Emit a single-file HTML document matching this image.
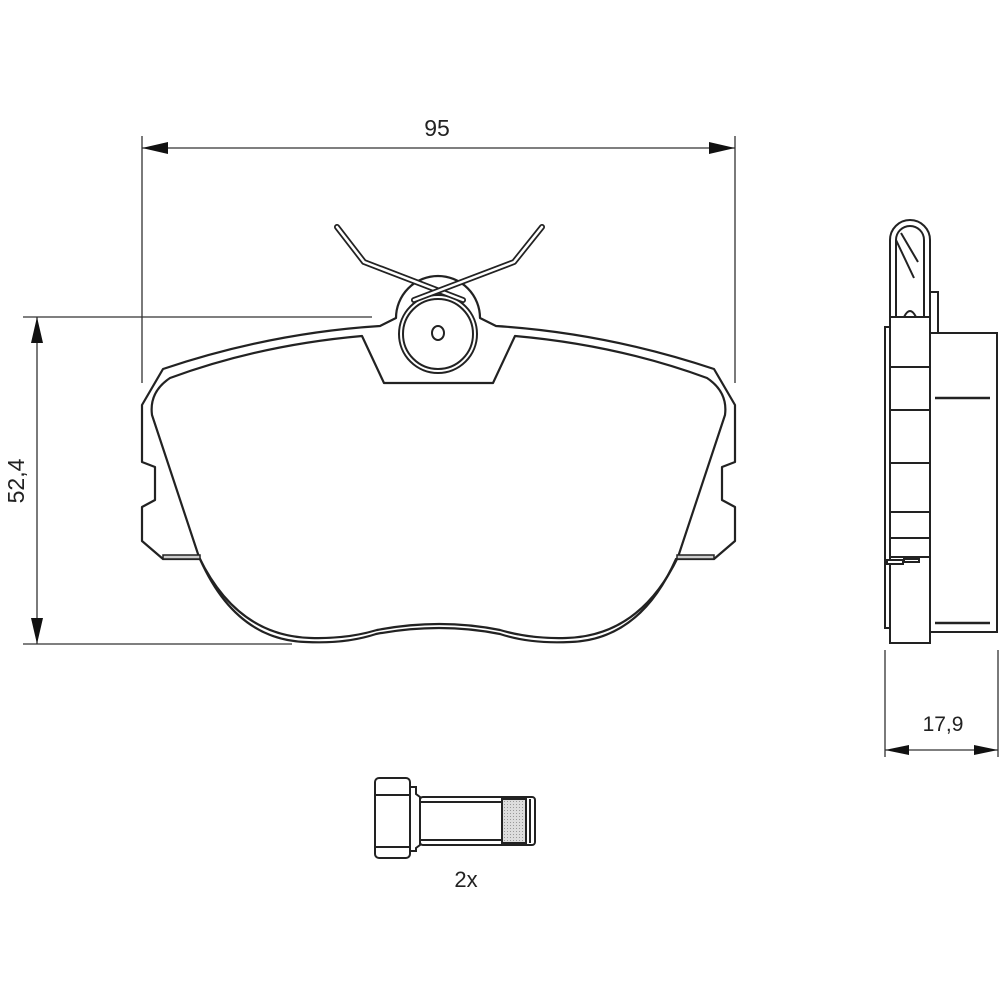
<!DOCTYPE html>
<html><head><meta charset="utf-8"><style>
html,body{margin:0;padding:0;background:#fff;}
svg{display:block;}
text{font-family:"Liberation Sans",sans-serif;fill:#222;}
</style></head><body>
<svg width="1000" height="1000" viewBox="0 0 1000 1000" xmlns="http://www.w3.org/2000/svg">
<defs>
<pattern id="hatch" width="3" height="3" patternUnits="userSpaceOnUse">
<rect width="3" height="3" fill="#ddd"/><rect width="1" height="1" fill="#999"/>
</pattern>
</defs>
<g stroke="#333" stroke-width="1.3" fill="none">
<line x1="142" y1="136" x2="142" y2="383"/>
<line x1="735" y1="136" x2="735" y2="383"/>
<line x1="142" y1="148" x2="735" y2="148"/>
<line x1="23" y1="317" x2="372" y2="317"/>
<line x1="23" y1="644" x2="292" y2="644"/>
<line x1="37" y1="317" x2="37" y2="644"/>
<line x1="885" y1="650" x2="885" y2="757"/>
<line x1="998" y1="650" x2="998" y2="757"/>
<line x1="885" y1="750" x2="998" y2="750"/>
</g>
<g fill="#111">
<polygon points="142,148 168,142 168,154"/>
<polygon points="735,148 709,142 709,154"/>
<polygon points="37,317 31,343 43,343"/>
<polygon points="37,644 31,618 43,618"/>
<polygon points="885,750 909,745 909,755"/>
<polygon points="998,750 974,745 974,755"/>
</g>
<text x="437" y="136" font-size="23" text-anchor="middle">95</text>
<text x="943" y="731" font-size="21" text-anchor="middle">17,9</text>
<text transform="translate(24,481) rotate(-90)" font-size="23" text-anchor="middle">52,4</text>

<g fill="none" stroke="#222" stroke-width="2.2" stroke-linejoin="round">
<path d="M163,369 Q270,333 380,326 L396,318 A42,42 0 0 1 480,318 L496,326 Q606,333 714,369 L735,405 L735,462 L722,467 L722,500 L735,507 L735,541 L714,559 L676,559 Q640,640 570,642 Q530,644 500,634 Q440,622 376,634 Q346,644 306,642 Q236,640 200,559 L163,559 L142,541 L142,507 L155,500 L155,467 L142,462 L142,405 Z"/>
<path d="M170,378 Q260,345 362,336 L384,383 L493,383 L515,336 Q617,345 707,378 Q728,392 725,415 L678,557 Q640,636 566,638 Q530,639 500,630 Q440,618 377,630 Q347,639 311,638 Q237,636 199,557 L152,415 Q149,392 170,378 Z"/>
</g>
<rect x="163" y="555" width="37" height="4" fill="#ccc" stroke="#222" stroke-width="1.5"/>
<rect x="677" y="555" width="37" height="4" fill="#ccc" stroke="#222" stroke-width="1.5"/>
<circle cx="438" cy="334" r="39" fill="#fff" stroke="#222" stroke-width="2"/>
<circle cx="438" cy="334" r="35" fill="#fff" stroke="#222" stroke-width="2"/>
<ellipse cx="438" cy="333" rx="6" ry="7" fill="#fff" stroke="#222" stroke-width="2"/>
<g fill="none" stroke-linecap="round" stroke-linejoin="round">
<path d="M337,227 L364,262 L463,300" stroke="#222" stroke-width="6"/>
<path d="M337,227 L364,262 L463,300" stroke="#fff" stroke-width="2.5"/>
<path d="M542,227 L514,262 L414,300" stroke="#222" stroke-width="6"/>
<path d="M542,227 L514,262 L414,300" stroke="#fff" stroke-width="2.5"/>
</g>

<g stroke="#222" stroke-width="2" fill="#fff">
<rect x="930" y="292" width="8" height="42"/>
<rect x="930" y="333" width="67" height="299"/>
<rect x="885" y="327" width="5" height="301"/>
<path d="M890,317 L890,240 A20,20 0 0 1 930,240 L930,317 Z"/>
<path d="M896,317 L896,240 A14,14 0 0 1 924,240 L924,317" fill="none"/>
<path d="M896,240 L914,278 M901,233 L918,262" fill="none"/>
<path d="M904,317 Q910,305 916,317" fill="none"/>
<rect x="890" y="317" width="40" height="326"/>
<line x1="890" y1="367" x2="930" y2="367"/>
<line x1="890" y1="410" x2="930" y2="410"/>
<line x1="890" y1="463" x2="930" y2="463"/>
<line x1="890" y1="512" x2="930" y2="512"/>
<line x1="890" y1="538" x2="930" y2="538"/>
<line x1="890" y1="557" x2="930" y2="557"/>
<rect x="887" y="560" width="16" height="4"/>
<rect x="904" y="559" width="15" height="3"/>
<line x1="935" y1="398" x2="990" y2="398" stroke-width="2.5"/>
<line x1="935" y1="623" x2="990" y2="623" stroke-width="2.5"/>
</g>

<g stroke="#222" stroke-width="2" fill="#fff">
<rect x="420" y="797" width="115" height="48" rx="3"/>
<rect x="502" y="799" width="24" height="44" fill="url(#hatch)"/>
<line x1="420" y1="802" x2="502" y2="802"/>
<line x1="420" y1="840" x2="502" y2="840"/>
<line x1="530" y1="799" x2="530" y2="843"/>
<path d="M410,787 L416,787 L416,794 L420,797 L420,845 L416,848 L416,851 L410,851 Z"/>
<rect x="375" y="778" width="35" height="80" rx="4"/>
<line x1="375" y1="795" x2="410" y2="795"/>
<line x1="375" y1="847" x2="410" y2="847"/>
</g>
<text x="466" y="887" font-size="22" text-anchor="middle">2x</text>
</svg>
</body></html>
